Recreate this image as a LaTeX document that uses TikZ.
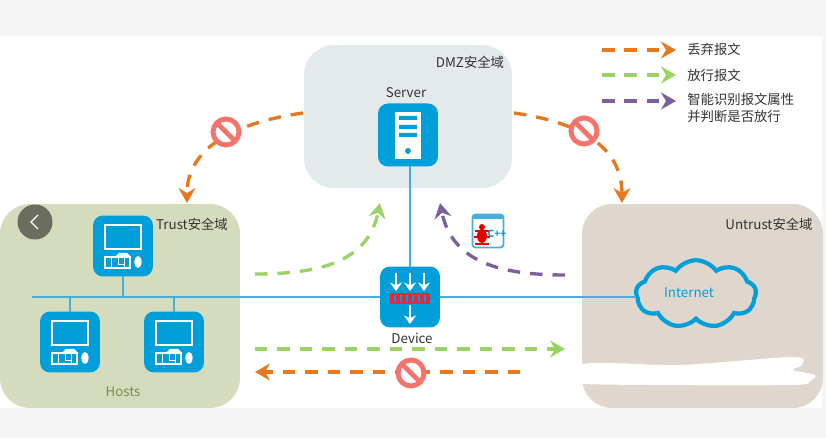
\documentclass[tikz,border=0pt]{standalone}
\usepackage{fontspec}
\setmainfont{Noto Sans CJK SC}
\usetikzlibrary{arrows.meta,shapes.symbols}

\definecolor{iconblue}{HTML}{009FD9}
\definecolor{linkblue}{HTML}{45AEDB}
\definecolor{dropc}{HTML}{E8781E}
\definecolor{passc}{HTML}{9BD264}
\definecolor{checkc}{HTML}{7D5FA0}
\definecolor{noc}{HTML}{F4736A}

\tikzset{
	zone/.style={rounded corners=.6cm, inner sep=0pt, outer sep=0pt},
	icon/.style={fill=iconblue, rounded corners=.2cm, minimum width=1.2cm, minimum height=1.22cm, inner sep=0pt, outer sep=0pt},
	lbl/.style={font=\fontsize{7.6}{10}\selectfont, text=black!80, inner sep=0pt},
	link/.style={linkblue, line width=1.3pt},
	flow/.style={line width=1.9pt, dash pattern=on .25cm off .2cm, -{Stealth[length=.3cm,width=.34cm,inset=.1cm]}},
	drop/.style={flow, dropc},
	pass/.style={flow, passc},
	check/.style={flow, checkc},
	noway/.style={circle, draw=noc, line width=2.8pt, fill=white, minimum size=.52cm, inner sep=0pt,
		path picture={\draw[noc, line width=2.8pt] (path picture bounding box.north west) -- (path picture bounding box.south east);}},
	pics/pc/.style={code={
		\draw[white, line width=1pt] (-18,-21) rectangle (18,3);
		\fill[white] (-7,10) -- (-4,7) -- (4,7) -- (7,10) -- cycle;
		\draw[white, line width=.7pt] (-18,11) rectangle (7,22);
		\draw[white, line width=.5pt] (-12,11) -- (-12,22) (-5,11) -- (-5,18) -- (1,18) (1,11) -- (1,22);
		\fill[white] (15,16) ellipse (3.6 and 6);
	}},
	pics/box/.style={code={
		\fill[white] (-13,-23) rectangle (13,24);
		\fill[iconblue] (-9,-19) rectangle (9,-15) (-9,-10) rectangle (9,-6) (-9,-2) rectangle (9,2);
		\fill[iconblue] (0,16) circle (3);
	}},
	pics/wall/.style={code={
		\foreach \x in {-14,0,14}
			\draw[white, line width=1.6pt, -{Stealth[length=.17cm,width=.24cm]}] (\x,-24) -- (\x,-6);
		\fill[red!55!purple!85] (-20,-4) rectangle (20,7);
		\foreach \x in {-15,-9,-3,3,9,15}
			\draw[iconblue, line width=.8pt] (\x,-2) -- (\x,5);
		\draw[white, line width=1.6pt, -{Stealth[length=.17cm,width=.24cm]}] (0,8) -- (0,27);
	}},
}

\begin{document}
\begin{tikzpicture}[x=.02cm, y=-.02cm]
	\useasboundingbox (0,0) rectangle (826,438);
	\fill[black!4] (0,0) rectangle (826,438);
	\fill[white] (0,36) rectangle (822,408);

	% zones
	\node[zone, fill={rgb,255:red,213;green,220;blue,190}, minimum width=4.8cm, minimum height=4.08cm] (trust) at (120,306) {};
	\node[zone, fill={rgb,255:red,228;green,233;blue,236}, minimum width=4.16cm, minimum height=2.86cm] (dmz) at (408,116.5) {};
	\node[zone, fill={rgb,255:red,223;green,214;blue,205}, minimum width=4.82cm, minimum height=4.08cm] (untrust) at (702.5,306) {};

	\node[lbl] at (192,224) {Trust安全域};
	\node[lbl] at (470,62) {DMZ安全域};
	\node[lbl] at (769,224) {Untrust安全域};
	\node[lbl, text={rgb,255:red,124;green,138;blue,80}] at (123,392) {Hosts};

	% devices
	\node[icon] (host1) at (123,246) {};
	\node[icon] (host2) at (70,342) {};
	\node[icon] (host3) at (174,342) {};
	\node[icon] (device) at (410,297) {};
	\node[icon, minimum height=1.26cm] (server) at (408,135) {};
	\node[cloud, cloud puffs=9, cloud puff arc=110, aspect=1.75, draw=iconblue, line width=2.4pt, minimum width=2.4cm, minimum height=1.35cm, inner sep=0pt, outer sep=0pt] (internet) at (696,294) {};

	\pic at (host1) {pc};
	\pic at (host2) {pc};
	\pic at (host3) {pc};
	\pic at (device) {wall};
	\pic at (server) {box};

	\node[lbl] at (406,93) {Server};
	\node[lbl] at (412,338) {Device};
	\node[lbl, text=iconblue] at (689,293) {Internet};

	% links
	\coordinate (busl) at (32,297);
	\draw[link] (busl) -- (device);
	\draw[link] (device) -- (device -| internet.west);
	\draw[link] (device |- server.south) -- (device);
	\draw[link] (host1) -- (host1 |- busl);
	\draw[link] (host2) -- (host2 |- busl);
	\draw[link] (host3) -- (host3 |- busl);

	% flows
	\coordinate (a1) at (303,113);
	\coordinate (a2) at (187,203);
	\coordinate (b1) at (514,113);
	\coordinate (b2) at (622,203);
	\coordinate (c1) at (255,274);
	\coordinate (c2) at (380,203);
	\coordinate (d1) at (565,275);
	\coordinate (d2) at (440,203);
	\coordinate (e1) at (255,349);
	\coordinate (e2) at (565,349);
	\coordinate (f1) at (520,372);
	\coordinate (f2) at (255,372);
	\draw[drop] (a1) .. controls (240,122) and (187,145) .. (a2);
	\draw[drop] (b1) .. controls (577,122) and (622,145) .. (b2);
	\draw[pass] (c1) .. controls (320,274) and (368,262) .. (c2);
	\draw[check] (d1) .. controls (500,275) and (452,262) .. (d2);
	\draw[pass] (e1) -- (e2);
	\draw[drop] (f1) -- (f2);

	\node[noway] (no1) at (226,132) {};
	\node[noway] (no2) at (584,131) {};
	\node[noway] (no3) at (411,373) {};

	% back button
	\node[circle, fill={rgb,255:red,107;green,110;blue,95}, minimum size=.7cm, inner sep=0pt] (back) at (35,222) {};
	\draw[white, line width=.7pt] (38,215) -- (31,222) -- (38,229);

	% bug window
	\node[draw=linkblue, fill=white, line width=1pt, rounded corners=.06cm, minimum width=.62cm, minimum height=.66cm, inner sep=0pt] (bug) at (488,231) {};
	\fill[linkblue] (473,215) rectangle (503,219);
	\fill[red!90!black] (482,236) ellipse (5 and 7);
	\fill[red!90!black] (482,227) circle (3);
	\draw[red!90!black, line width=.8pt] (475,231) -- (489,231) (474,237) -- (490,237) (475,244) -- (489,244);
	\node[inner sep=0pt, text=iconblue, font=\fontsize{5.6}{6}\selectfont\bfseries] at (497,234) {C++};

	% smear
	\fill[white] plot[smooth cycle] coordinates {(530,373) (593,363) (680,365) (793,357) (802,365) (793,370) (815,375) (810,381) (793,385) (647,385) (567,383)};

	% legend
	\coordinate (l1) at (602,50);
	\coordinate (l2) at (676,50);
	\coordinate (l3) at (602,75);
	\coordinate (l4) at (676,75);
	\coordinate (l5) at (602,101);
	\coordinate (l6) at (676,101);
	\draw[drop] (l1) -- (l2);
	\draw[pass] (l3) -- (l4);
	\draw[check] (l5) -- (l6);
	\node[lbl, anchor=west] at (687,49) {丢弃报文};
	\node[lbl, anchor=west] at (687,75) {放行报文};
	\node[lbl, anchor=west, align=left] at (687,108) {智能识别报文属性\\并判断是否放行};
\end{tikzpicture}
\end{document}
